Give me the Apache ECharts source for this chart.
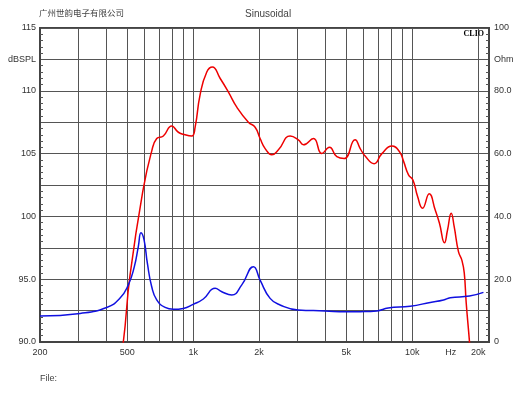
<!DOCTYPE html>
<html>
<head>
	<meta charset="utf-8">
	<title>CLIO Sinusoidal</title>
	<script type="text/javascript" src="https://cdn.jsdelivr.net/npm/echarts@6/dist/echarts.min.js"></script>
	<style>html,body{margin:0;padding:0;background:#fff;}</style>
</head>
<body>
	<div id="main" style="width:530px;height:398px;"></div>
	<script type="text/javascript">
// SPL curve (red, left axis dBSPL)
var splFreq = [460, 480, 515, 592, 647, 682, 731, 798, 856, 919, 986, 1021, 1076, 1154, 1224, 1327, 1449, 1582, 1787, 1918,
    2021, 2131, 2286, 2450, 2771, 3021, 3187, 3540, 3865, 4188, 4527, 4889, 5485, 5786, 6096, 6699, 7266, 8072, 8747, 9121,
    9613, 10070, 10570, 11140, 11950, 12730, 13310, 14030, 14480, 15060, 15530, 16250, 16850, 17270, 17630, 18250, 18500];
var splDb = [88.5, 90.0, 95.3, 102.2, 105.2, 106.2, 106.4, 107.2, 106.7, 106.5, 106.4, 107.1, 109.7, 111.5, 111.9, 111.0, 109.9, 108.7, 107.5, 107.1,
    106.2, 105.4, 104.9, 105.3, 106.4, 106.1, 105.7, 106.2, 105.0, 105.5, 104.75, 104.6, 106.1, 105.4, 104.8, 104.2, 105.0, 105.6, 105.15, 104.4,
    103.3, 102.9, 101.6, 100.65, 101.8, 100.5, 99.45, 97.9, 98.9, 100.25, 99.2, 97.2, 96.5, 95.5, 93.1, 90.0, 88.5];

// impedance curve (blue, right axis Ohm)
var impFreq = [200, 305, 403, 463, 506, 539, 562, 578, 597, 618, 647, 682, 745, 812, 902, 1000, 1113, 1260, 1351, 1500,
    1667, 1884, 2021, 2245, 2494, 3013, 4000, 4940, 5786, 6891, 7763, 9780, 12080, 13890, 14900, 18250, 21130];
var impOhm = [8.3, 9.1, 11.0, 13.9, 18.2, 24.0, 30.4, 34.8, 32.5, 25.1, 17.6, 13.4, 11.0, 10.4, 10.7, 12.0, 13.7, 17.1, 16.0, 15.0,
    18.2, 24.0, 19.7, 13.9, 11.8, 10.2, 9.9, 9.6, 9.65, 9.9, 10.8, 11.4, 12.6, 13.4, 14.1, 14.65, 15.8];

// axes
var freqMin = 200, freqMax = 22400;
var gridFreqs = [200, 300, 400, 500, 600, 700, 800, 900, 1000, 2000, 3000, 4000, 5000, 6000, 7000, 8000, 9000, 10000, 20000];
var labelFreqs = [200, 500, 1000, 2000, 5000, 10000, 15000, 20000];
var labelText = ['200', '500', '1k', '2k', '5k', '10k', 'Hz', '20k'];
var dbTicks = [115, 112.5, 110, 105, 100, 95, 90];
var dbText = ['115', 'dBSPL', '110', '105', '100', '95.0', '90.0'];
var ohmTicks = [100, 90, 80, 60, 40, 20, 0];
var ohmText = ['100', 'Ohm', '80.0', '60.0', '40.0', '20.0', '0'];

function lg(f) { return Math.log10(f); }
function pickText(v, vals, texts, fn) {
    for (var i = 0; i < vals.length; i++) {
        var t = fn ? fn(vals[i]) : vals[i];
        if (Math.abs(t - v) < 1e-6) return texts[i];
    }
    return '';
}

var labelFont = { color: '#333', fontSize: 9, fontFamily: 'Liberation Sans' };
var gridLine = { show: true, lineStyle: { color: '#555', width: 1 } };

option = {
    animation: false,
    backgroundColor: '#fff',
    title: [
        { text: '广州世韵电子有限公司', left: 39, top: 9, padding: 0,
          textStyle: { fontSize: 8.5, fontWeight: 'normal', color: '#444', fontFamily: 'Noto Sans CJK SC' } },
        { text: 'Sinusoidal', left: 245, top: 9, padding: 0,
          textStyle: { fontSize: 10, fontWeight: 'normal', color: '#444', fontFamily: 'Liberation Sans' } },
        { text: 'CLIO', right: 46, top: 30, padding: 0,
          textStyle: { fontSize: 8, fontWeight: 'bold', color: '#000', fontFamily: 'Liberation Serif' } },
        { text: 'File:', left: 40, top: 374, padding: 0,
          textStyle: { fontSize: 9, fontWeight: 'normal', color: '#444', fontFamily: 'Liberation Sans' } }
    ],
    grid: {
        left: 40, right: 41, top: 28, bottom: 56,
        show: true, borderColor: '#444', borderWidth: 2
    },
    xAxis: {
        type: 'value',
        min: lg(freqMin),
        max: lg(freqMax),
        axisLine: { show: true, lineStyle: { color: '#444', width: 2 } },
        axisTick: { show: true, length: 0, customValues: gridFreqs.map(lg) },
        axisLabel: Object.assign({
            margin: 6,
            customValues: labelFreqs.map(lg),
            formatter: function (v) { return pickText(v, labelFreqs, labelText, lg); }
        }, labelFont),
        splitLine: gridLine
    },
    yAxis: [
        {
            type: 'value', min: 90, max: 115, interval: 2.5,
            axisLine: { show: true, lineStyle: { color: '#444', width: 2 } },
            axisTick: { show: true, inside: true, length: 0 },
            minorTick: { show: true, splitNumber: 5, length: 3, lineStyle: { color: '#555' } },
            axisLabel: Object.assign({
                margin: 4,
                formatter: function (v) { return pickText(v, dbTicks, dbText); }
            }, labelFont),
            splitLine: gridLine
        },
        {
            type: 'value', min: 0, max: 100, interval: 10,
            position: 'right',
            axisLine: { show: true, lineStyle: { color: '#444', width: 2 } },
            axisTick: { show: true, inside: true, length: 0 },
            minorTick: { show: true, splitNumber: 5, length: 3, lineStyle: { color: '#555' } },
            axisLabel: Object.assign({
                margin: 5,
                formatter: function (v) { return pickText(v, ohmTicks, ohmText); }
            }, labelFont),
            splitLine: { show: false }
        }
    ],
    series: [
        {
            name: 'SPL',
            type: 'line',
            yAxisIndex: 0,
            data: splFreq.map(function (f, i) { return [lg(f), splDb[i]]; }),
            showSymbol: false,
            smooth: 0.5,
            clip: true,
            lineStyle: { color: '#ee0000', width: 1.5 },
            z: 3
        },
        {
            name: 'Impedance',
            type: 'line',
            yAxisIndex: 1,
            data: impFreq.map(function (f, i) { return [lg(f), impOhm[i]]; }),
            showSymbol: false,
            smooth: 0.5,
            clip: true,
            lineStyle: { color: '#1010e0', width: 1.5 },
            z: 3
        }
    ]
};
    var myChart = echarts.init(document.getElementById('main'));
    myChart.setOption(option);
	</script>
</body>
</html>
